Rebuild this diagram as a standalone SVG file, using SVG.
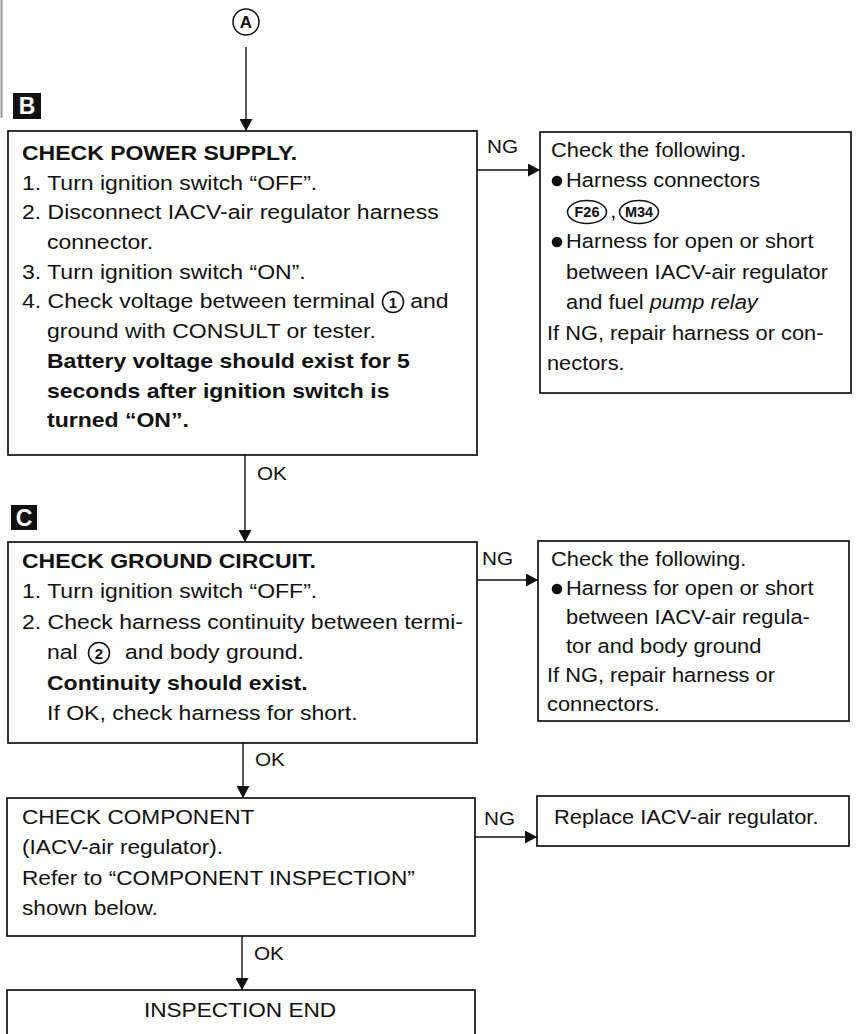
<svg xmlns="http://www.w3.org/2000/svg" width="857" height="1034" viewBox="0 0 857 1034">
<style>
.bg{fill:#fff}
.box{fill:none;stroke:#111;stroke-width:1.7}
.t{font-family:"Liberation Sans",Arial,sans-serif;font-size:19.5px;fill:#111}
.b{font-weight:bold}
.lbl{font-family:"Liberation Sans",Arial,sans-serif;font-size:18.5px;fill:#111}
.tag{fill:#111}
.tagt{font-family:"Liberation Sans",Arial,sans-serif;font-size:23px;font-weight:bold;fill:#fff}
.conn{fill:none;stroke:#111;stroke-width:1.4}
.circ{fill:none;stroke:#111;stroke-width:1.5}
.dig{font-family:"Liberation Sans",Arial,sans-serif;font-size:15px;font-weight:bold;fill:#111;text-anchor:middle}
.dot{fill:#111}
</style>
<defs>
<marker id="ah" markerWidth="13" markerHeight="13" refX="12" refY="6.5" orient="auto" markerUnits="userSpaceOnUse">
<path d="M0,0 L12,6.5 L0,13 z" fill="#111"/>
</marker>
</defs>
<rect class="bg" x="0" y="0" width="857" height="1034"/>
<line x1="1.5" y1="0" x2="1.5" y2="118" stroke="#999" stroke-width="2"/>

<g id="start-a">
<circle class="circ" cx="246" cy="22" r="13"/>
<text class="dig" x="246" y="28" style="font-size:17px">A</text>
</g>

<g id="tag-b">
<rect class="tag" x="13" y="93" width="28" height="26"/>
<text class="tagt" x="27" y="114" text-anchor="middle">B</text>
</g>

<g id="tag-c">
<rect class="tag" x="11" y="505" width="26" height="25"/>
<text class="tagt" x="24" y="526" text-anchor="middle">C</text>
</g>

<g id="node-power-supply">
<rect class="box" x="8" y="131" width="469" height="324"/>
<g transform="translate(22,0) scale(1.18,1)">
<text class="t b" x="0" y="160">CHECK POWER SUPPLY.</text>
<text class="t" x="0" y="189.7">1. Turn ignition switch “OFF”.</text>
<text class="t" x="0" y="219.4">2. Disconnect IACV-air regulator harness</text>
<text class="t" x="21.2" y="249.1">connector.</text>
<text class="t" x="0" y="278.8">3. Turn ignition switch “ON”.</text>
<text class="t" x="0" y="308.5">4. Check voltage between terminal</text>
<text class="t" x="329" y="308.5">and</text>
<text class="t" x="21.2" y="338.2">ground with CONSULT or tester.</text>
<text class="t b" x="21.2" y="367.9">Battery voltage should exist for 5</text>
<text class="t b" x="21.2" y="397.6">seconds after ignition switch is</text>
<text class="t b" x="21.2" y="427.3">turned “ON”.</text>
</g>
<circle class="circ" cx="393" cy="302" r="10.5"/>
<text class="dig" x="393" y="307.5">1</text>
</g>

<g id="node-ng-power">
<rect class="box" x="540" y="132" width="311" height="261"/>
<g transform="translate(551,0) scale(1.12,1)">
<text class="t" x="0" y="157">Check the following.</text>
<text class="t" x="13.4" y="187.5">Harness connectors</text>
<text class="t" x="53" y="218">,</text>
<text class="t" x="13.4" y="248.5">Harness for open or short</text>
<text class="t" x="13.4" y="279">between IACV-air regulator</text>
<text class="t" x="13.4" y="309.5">and fuel <tspan font-style="italic">pump relay</tspan></text>
<text class="t" x="-3.6" y="340">If NG, repair harness or con-</text>
<text class="t" x="-3.6" y="370.5">nectors.</text>
</g>
<circle class="dot" cx="557" cy="181" r="5.3"/>
<circle class="dot" cx="557" cy="242" r="5.3"/>
<ellipse class="circ" cx="587" cy="212" rx="19.5" ry="11.5"/>
<text class="dig" x="587" y="217" style="font-size:14.5px">F26</text>
<ellipse class="circ" cx="639" cy="212" rx="19.5" ry="11.5"/>
<text class="dig" x="639" y="217" style="font-size:14.5px">M34</text>
</g>

<g id="node-ground">
<rect class="box" x="8" y="542" width="469" height="201"/>
<g transform="translate(22,0) scale(1.18,1)">
<text class="t b" x="0" y="568">CHECK GROUND CIRCUIT.</text>
<text class="t" x="0" y="598.5">1. Turn ignition switch “OFF”.</text>
<text class="t" x="0" y="629">2. Check harness continuity between termi-</text>
<text class="t" x="21.2" y="659.5">nal</text>
<text class="t" x="87.3" y="659.5">and body ground.</text>
<text class="t b" x="21.2" y="690">Continuity should exist.</text>
<text class="t" x="21.2" y="720.5">If OK, check harness for short.</text>
</g>
<circle class="circ" cx="99" cy="653" r="10.5"/>
<text class="dig" x="99" y="658.5">2</text>
</g>

<g id="node-ng-ground">
<rect class="box" x="538" y="541" width="311" height="180"/>
<g transform="translate(551,0) scale(1.12,1)">
<text class="t" x="0" y="566">Check the following.</text>
<text class="t" x="13.4" y="595">Harness for open or short</text>
<text class="t" x="13.4" y="624">between IACV-air regula-</text>
<text class="t" x="13.4" y="653">tor and body ground</text>
<text class="t" x="-3.6" y="682">If NG, repair harness or</text>
<text class="t" x="-3.6" y="711">connectors.</text>
</g>
<circle class="dot" cx="557" cy="589" r="5.3"/>
</g>

<g id="node-component">
<rect class="box" x="7" y="798" width="468" height="138"/>
<g transform="translate(22,0) scale(1.16,1)">
<text class="t" x="0" y="824">CHECK COMPONENT</text>
<text class="t" x="0" y="854.5">(IACV-air regulator).</text>
<text class="t" x="0" y="885">Refer to “COMPONENT INSPECTION”</text>
<text class="t" x="0" y="915.5">shown below.</text>
</g>
</g>

<g id="node-replace">
<rect class="box" x="537" y="796" width="312" height="50"/>
<g transform="translate(554,0) scale(1.12,1)">
<text class="t" x="0" y="824">Replace IACV-air regulator.</text>
</g>
</g>

<g id="node-end">
<rect class="box" x="7" y="990" width="468" height="60"/>
<g transform="translate(240,0) scale(1.16,1)">
<text class="t" x="0" y="1017" text-anchor="middle">INSPECTION END</text>
</g>
</g>

<g id="connectors">
<path class="conn" d="M246,47 V131" marker-end="url(#ah)"/>
<path class="conn" d="M477,170 H540" marker-end="url(#ah)"/>
<path class="conn" d="M245,455 V542" marker-end="url(#ah)"/>
<path class="conn" d="M477,580 H538" marker-end="url(#ah)"/>
<path class="conn" d="M243,743 V798" marker-end="url(#ah)"/>
<path class="conn" d="M475,837 H537" marker-end="url(#ah)"/>
<path class="conn" d="M242,936 V990" marker-end="url(#ah)"/>
<g transform="translate(487,0) scale(1.12,1)"><text class="lbl" x="0" y="153">NG</text></g>
<g transform="translate(482,0) scale(1.12,1)"><text class="lbl" x="0" y="565">NG</text></g>
<g transform="translate(484,0) scale(1.12,1)"><text class="lbl" x="0" y="825">NG</text></g>
<g transform="translate(257,0) scale(1.12,1)"><text class="lbl" x="0" y="480">OK</text></g>
<g transform="translate(255,0) scale(1.12,1)"><text class="lbl" x="0" y="766">OK</text></g>
<g transform="translate(254,0) scale(1.12,1)"><text class="lbl" x="0" y="960">OK</text></g>
</g>
</svg>
